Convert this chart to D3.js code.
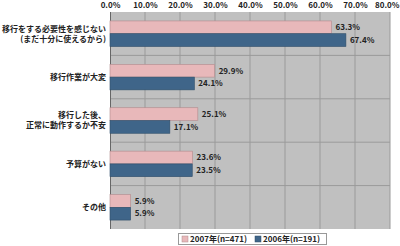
<!DOCTYPE html>
<html><head><meta charset="utf-8">
<script src="https://cdn.jsdelivr.net/npm/d3@7"></script>
<style>
body{margin:0;background:#fff;}
text{font-family:"Noto Sans CJK JP","Noto Sans",sans-serif;font-weight:bold;}
</style></head>
<body><svg id="c" width="400" height="246"></svg>
<script>
const categories = [
  ["移行をする必要性を感じない","(まだ十分に使えるから)"],
  ["移行作業が大変"],
  ["移行した後、","正常に動作するか不安"],
  ["予算がない"],
  ["その他"]
];
const series2007 = [63.3, 29.9, 25.1, 23.6, 5.9];
const series2006 = [67.4, 24.1, 17.1, 23.5, 5.9];
const seriesNames = ["2007年(n=471)", "2006年(n=191)"];
const tickValues = [0,10,20,30,40,50,60,70,80];
const colors = ["#e8b8ba", "#3f6589"];

const svg = d3.select("#c");
const L = 110, R = 390, T = 12, B = 229;
const x = d3.scaleLinear().domain([0,80]).range([L,R]);
const y = d3.scaleBand().domain(d3.range(categories.length)).range([T,B]);
const inner = d3.scaleBand().domain([0,1]).range([0, y.bandwidth()]).paddingOuter(0.7).paddingInner(0);

svg.append("rect").attr("x",L).attr("y",T).attr("width",R-L).attr("height",B-T).attr("fill","#c0c0c0");

// vertical grid
svg.append("g").selectAll("line").data(tickValues.slice(1)).join("line")
  .attr("x1",d=>x(d)).attr("x2",d=>x(d)).attr("y1",T).attr("y2",B)
  .attr("stroke","#9a9a9a").attr("stroke-width",1);
// horizontal category separators
svg.append("g").selectAll("line").data(d3.range(1,categories.length)).join("line")
  .attr("x1",L).attr("x2",R).attr("y1",d=>y(d)).attr("y2",d=>y(d))
  .attr("stroke","#9a9a9a").attr("stroke-width",1);
// left axis line
svg.append("line").attr("x1",L+0.5).attr("x2",L+0.5).attr("y1",T).attr("y2",B).attr("stroke","#666");

// top axis
const ax = svg.append("g").attr("transform",`translate(0,${T})`)
  .call(d3.axisTop(x).tickValues(tickValues).tickFormat(d=>d.toFixed(1)+"%").tickSize(0).tickPadding(4));
ax.select(".domain").remove();
ax.selectAll("text").attr("font-size",8).attr("fill","#222");
ax.selectAll(".tick").filter(d=>d===80).select("text").attr("text-anchor","end").attr("x",9);

const data = [series2007, series2006];
data.forEach((s,si)=>{
  const g = svg.append("g");
  g.selectAll("rect").data(s).join("rect")
    .attr("x",L).attr("y",(d,i)=>y(i)+inner(si))
    .attr("width",d=>x(d)-L).attr("height",inner.bandwidth())
    .attr("fill",colors[si]).attr("stroke",si===0?"#b08a8c":"#2f4e6a").attr("stroke-width",0.6);
  g.selectAll("text").data(s).join("text")
    .attr("x",d=>x(d)+4).attr("y",(d,i)=>y(i)+inner(si)+inner.bandwidth()/2)
    .attr("dy","0.35em").attr("font-size",8).attr("fill","#222")
    .text(d=>d.toFixed(1)+"%");
});

// category labels
categories.forEach((lines,i)=>{
  const t = svg.append("text").attr("x",L-4).attr("text-anchor","end")
    .attr("font-size",8).attr("fill","#222");
  const cy = y(i)+y.bandwidth()/2;
  const lh = 10;
  lines.forEach((ln,j)=>{
    t.append("tspan").attr("x",L-4)
      .attr("y",cy + (j-(lines.length-1)/2)*lh).attr("dy","0.35em").text(ln);
  });
});

// legend
const lg = svg.append("g");
lg.append("rect").attr("x",178.5).attr("y",233.5).attr("width",148).attr("height",11)
  .attr("fill","#fff").attr("stroke","#999");
seriesNames.forEach((n,i)=>{
  const ox = 182 + i*73;
  lg.append("rect").attr("x",ox).attr("y",236).attr("width",6).attr("height",6)
    .attr("fill",colors[i]).attr("stroke",i===0?"#b08a8c":"#2f4e6a").attr("stroke-width",0.5);
  lg.append("text").attr("x",ox+8).attr("y",239).attr("dy","0.35em")
    .attr("font-size",8).attr("fill","#222").text(n);
});
</script></body></html>
